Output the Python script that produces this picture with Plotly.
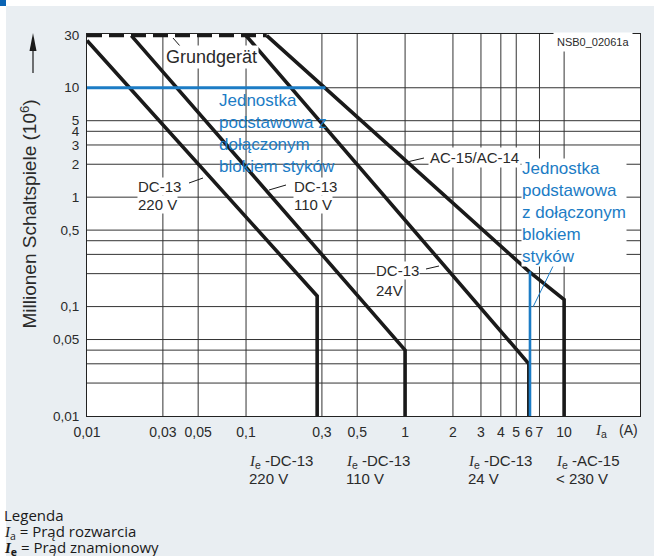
import plotly.graph_objects as go
import math

# ---------------- data ----------------
x_ticks = [0.01, 0.03, 0.05, 0.1, 0.3, 0.5, 1, 2, 3, 4, 5, 6, 7, 10]
x_ticktext = ["0,01", "0,03", "0,05", "0,1", "0,3", "0,5", "1", "2", "3", "4", "5", "6", "7", "10"]
y_ticks = [30, 10, 5, 4, 3, 2, 1, 0.5, 0.1, 0.05, 0.01]
y_ticktext = ["30", "10", "5", "4", "3", "2", "1", "0,5", "0,1", "0,05", "0,01"]
x_grid = [0.03, 0.05, 0.1, 0.3, 0.5, 1, 2, 3, 4, 5, 7, 10]
y_grid = [10, 5, 4, 3, 2, 1, 0.5, 0.4, 0.3, 0.2, 0.1, 0.05, 0.04, 0.03, 0.02]

dc13_220_x = [0.01, 0.28, 0.28]
dc13_220_y = [27, 0.125, 0.01]
dc13_110_x = [0.019, 1, 1]
dc13_110_y = [30, 0.04, 0.01]
dc13_24_x = [0.1, 6, 6]
dc13_24_y = [30, 0.03, 0.01]
ac15_x = [0.135, 6, 10, 10]
ac15_y = [30, 0.21, 0.116, 0.01]
grund_x = [0.01, 0.135]
grund_y = [30, 30]
blue_h_x = [0.01, 0.316]
blue_h_y = [10, 10]
blue_v_x = [6.1, 6.1]
blue_v_y = [0.21, 0.01]

X_MIN, X_MAX = 0.01, 30
Y_MIN, Y_MAX = 0.01, 31

W, H = 654, 556
ML, MR, MT, MB = 87, 14, 34, 140
PW, PH = W - ML - MR, H - MT - MB

def X(px):
    return (px - ML) / PW

def Y(py):
    return (MT + PH - py) / PH

BLACK = "#1a1a1a"
BLUE = "#1c7cc5"
TXT = "#2a2a2a"
FONT = "Liberation Sans, Arial, sans-serif"
SERIF_I = '<span style="font-family:Liberation Serif">'

fig = go.Figure()

# gridlines
gx, gy = [], []
for v in x_grid:
    gx += [v, v, None]
    gy += [Y_MIN, Y_MAX, None]
for v in y_grid:
    gx += [X_MIN, X_MAX, None]
    gy += [v, v, None]
fig.add_trace(go.Scatter(x=gx, y=gy, mode="lines", line=dict(color="#333333", width=1),
                         hoverinfo="skip", showlegend=False))

def curve(xs, ys, color=BLACK, width=3.6, dash="solid"):
    fig.add_trace(go.Scatter(x=xs, y=ys, mode="lines",
                             line=dict(color=color, width=width, dash=dash),
                             hoverinfo="skip", showlegend=False, cliponaxis=False))

curve(dc13_220_x, dc13_220_y)
curve(dc13_110_x, dc13_110_y)
curve(dc13_24_x, dc13_24_y)
curve(ac15_x, ac15_y)
curve(grund_x, grund_y, dash="15px,7px")
curve(blue_h_x, blue_h_y, color=BLUE, width=3.2)
curve(blue_v_x, blue_v_y, color=BLUE, width=2.6)

shapes = []
# page decorations
def rect(x0, y0, x1, y1, color):
    shapes.append(dict(type="rect", xref="paper", yref="paper",
                       x0=X(x0), x1=X(x1), y0=Y(y1), y1=Y(y0),
                       fillcolor=color, line=dict(width=0), layer="above"))
rect(0, 0, W, 6, "white")
rect(0, 0, 6, H, "white")
rect(0, 0, 6, 6, "#0a64b4")

def seg(x0, y0, x1, y1, color=BLACK, width=1):
    shapes.append(dict(type="line", xref="paper", yref="paper",
                       x0=X(x0), y0=Y(y0), x1=X(x1), y1=Y(y1),
                       line=dict(color=color, width=width), layer="above"))

# leader lines
seg(173, 38, 180, 46)
seg(189, 183, 203, 178)
seg(269, 190, 286, 185)
seg(407, 162, 424, 158)
seg(426, 269, 439, 266)
seg(560, 252, 533, 307, color=BLUE, width=1)

# y-axis arrow
seg(33, 50, 33, 73, width=1.2)
shapes.append(dict(type="path", xref="paper", yref="paper",
                   path="M %f %f L %f %f L %f %f Z" % (X(33), Y(33), X(29.5), Y(51), X(36.5), Y(51)),
                   fillcolor=BLACK, line=dict(width=0), layer="above"))

ann = []
def text(px, py, t, size=15, color=TXT, xanchor="left", yanchor="middle", bg=None,
         family=FONT, angle=0, align="left", pad=0):
    d = dict(x=X(px), y=Y(py), xref="paper", yref="paper", text=t, showarrow=False,
             xanchor=xanchor, yanchor=yanchor, align=align, textangle=angle,
             font=dict(size=size, color=color, family=family), borderpad=pad)
    if bg:
        d["bgcolor"] = bg
    ann.append(d)

text(211, 57, "Grundgerät", size=18, xanchor="center", bg="white", pad=1)
text(137, 187, "DC-13", bg="white")
text(137, 204, "220 V", bg="white")
text(293, 187, "DC-13", bg="white")
text(293, 204, "110 V", bg="white")
text(428, 157, "AC-15/AC-14", bg="white", pad=1)
text(375, 270, "DC-13", bg="white")
text(375, 290, "24V", bg="white")
text(633, 42, "NSB0_02061a", size=11, xanchor="right", bg="white", pad=3)

text(218, 133.5, "Jednostka<br>podstawowa z<br>dołączonym<br>blokiem styków", size=17, color=BLUE)
text(521, 212.5, "Jednostka<br>podstawowa<br>z dołączonym<br>blokiem<br>styków", size=17, color=BLUE, bg="white")

text(28.5, 214, "Millionen Schaltspiele (10<sup>6</sup>)", size=19, xanchor="center", angle=-90)
text(601, 431, SERIF_I + "<i>I</i></span><sub>a</sub>", size=15, xanchor="center")
text(628, 430, "(A)", size=14, xanchor="center")

Ie = SERIF_I + "<i>I</i></span><sub>e</sub> -"
for px, l1, l2 in [(248, "DC-13", "220 V"), (345, "DC-13", "110 V"),
                   (467, "DC-13", "24 V"), (555, "AC-15", "&lt; 230 V")]:
    text(px, 461, Ie + l1, size=15)
    text(px, 478, l2, size=15)

LEG = "Open Sans, Noto Sans, sans-serif"
text(3, 515, "Legenda", size=15, family=LEG, color="#1a1a1a")
text(3, 531.5, SERIF_I + "<i>I</i></span><sub>a</sub> = Prąd rozwarcia", size=15, family=LEG, color="#1a1a1a")
text(3, 547.5, SERIF_I + "<b><i>I</i></b></span><sub><b>e</b></sub> = Prąd znamionowy", size=15, family=LEG, color="#1a1a1a")

fig.update_layout(
    width=W, height=H,
    margin=dict(l=ML, r=MR, t=MT, b=MB, pad=0),
    paper_bgcolor="#e9eef2",
    plot_bgcolor="white",
    showlegend=False,
    shapes=shapes,
    annotations=ann,
    font=dict(family=FONT, color=TXT),
    xaxis=dict(type="log", range=[math.log10(X_MIN), math.log10(X_MAX)],
               tickmode="array", tickvals=x_ticks, ticktext=x_ticktext,
               tickfont=dict(size=14, color=TXT, family=FONT), ticks="",
               showgrid=False, zeroline=False, showline=True, mirror=True,
               linecolor="#222222", linewidth=1, ticklabelstandoff=3),
    yaxis=dict(type="log", range=[math.log10(Y_MIN), math.log10(Y_MAX)],
               tickmode="array", tickvals=y_ticks, ticktext=y_ticktext,
               tickfont=dict(size=13.5, color=TXT, family=FONT), ticks="",
               showgrid=False, zeroline=False, showline=True, mirror=True,
               linecolor="#222222", linewidth=1, ticklabelstandoff=4),
)

fig.write_html("out.html")
